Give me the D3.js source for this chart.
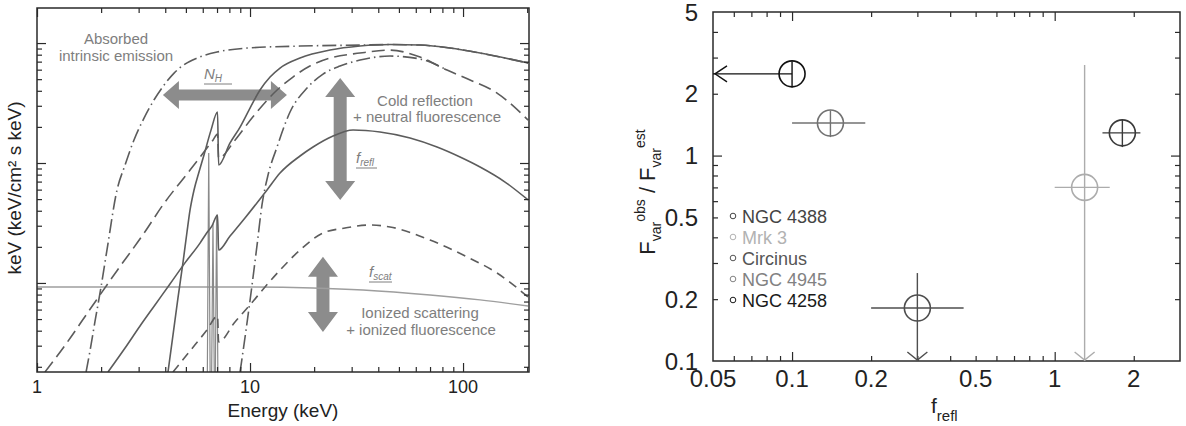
<!DOCTYPE html>
<html><head><meta charset="utf-8">
<script src="https://cdn.jsdelivr.net/npm/d3@7"></script>
<style>body{margin:0;background:#fff;}svg{display:block;font-family:"Liberation Sans",Arial,sans-serif;}</style>
</head><body><svg id="c" width="1186" height="426"></svg>
<script>
// ---------------- Left panel data (energy keV, flux arbitrary) ----------------
const energyA = [1.09,1.35,1.77,2.37,3.18,3.90,5.23,6.70,7.04,7.12,8.50,10.3,13.4,15.9,19.1,23.8,32.8,45.4,62.8,84.1,107.9,144.4,202];
const fluxA   = [0.00181,0.0030,0.0060,0.0126,0.026,0.0447,0.0874,0.155,0.174,0.110,0.155,0.242,0.406,0.521,0.643,0.750,0.825,0.874,0.764,0.596,0.492,0.383,0.228];
const energyB = [1.70,1.77,1.87,1.98,2.13,2.375,2.59,2.85,3.18,3.54,3.95,4.40,4.95,5.64,7.0,9.68,17.2,32.8,45.4,62.8,86.9,120.2,157.5,202];
const fluxB   = [0.00181,0.00266,0.00473,0.00841,0.0188,0.0596,0.0962,0.155,0.237,0.335,0.447,0.562,0.668,0.750,0.841,0.9085,0.944,0.962,0.972,0.962,0.9085,0.825,0.750,0.681];
const energyC = [4.12,4.35,4.59,4.85,5.06,5.23,5.46,5.76,6.08,6.56,7.04,7.12,8.06,8.98,10,11.14,12.42,13.83,17.17,23.75,32.84,45.4,62.8,86.9,120.2,157.5,202];
const fluxC   = [0.00181,0.00369,0.0075,0.0150,0.0266,0.0406,0.0596,0.0841,0.1166,0.188,0.266,0.0962,0.147,0.1995,0.2873,0.406,0.521,0.619,0.750,0.874,0.944,0.972,0.962,0.9085,0.825,0.750,0.681];
const energyD = [8.98,9.58,10.22,10.79,11.38,12.15,13.39,15.41,18.52,22.02,26.46,32.84,45.43,62.8,84.1];
const fluxD   = [0.00181,0.00406,0.0096,0.0207,0.0447,0.0794,0.1359,0.2661,0.4217,0.5517,0.643,0.7217,0.779,0.736,0.596];
const energyR1 = [2.154,2.59,3.045,3.58,4.21,4.95,5.825,6.215,6.63,7.04,7.12,8.06,9.47,12.02,13.83,17.17,19.76,24.53,30.45,40.76,56.39,75.49,96.81,120.2,157.5,202];
const fluxR1   = [0.00181,0.00287,0.00438,0.00656,0.0098,0.0147,0.0215,0.0256,0.0299,0.0369,0.0188,0.0246,0.0348,0.0596,0.0825,0.1144,0.1359,0.1679,0.1884,0.1813,0.1616,0.1359,0.1122,0.0926,0.0694,0.0492];
const energyR2 = [4.35,5.23,6.28,7.04,7.12,8.50,10,11.76,13.83,17.17,22.02,27.93,36.59,45.43,70,104.4,144.4,202];
const fluxR2   = [0.00181,0.00271,0.00406,0.00531,0.00322,0.00473,0.00656,0.00926,0.0128,0.0188,0.0261,0.0287,0.0304,0.0293,0.0228,0.0165,0.0121,0.00764];
const energyScat = [1,10,19.76,33.9,70,120.2,202];
const fluxScat   = [0.00926,0.00926,0.00909,0.00874,0.00794,0.00722,0.00643];
const lineEnergies = [6.4, 6.7, 6.97];
const linePeaks    = [0.121, 0.031, 0.037];
const lineHalfWidth = 0.1;
const leftXMajor = [1,10,100];
const leftXMinor = [2,3,4,5,6,7,8,9,20,30,40,50,60,70,80,90,200];
const leftYMajor = [0.01,0.1,1];
const leftYMinor = [0.002,0.003,0.004,0.005,0.006,0.007,0.008,0.009,0.02,0.03,0.04,0.05,0.06,0.07,0.08,0.09,0.2,0.3,0.4,0.5,0.6,0.7,0.8,0.9];
const leftXLabels = ["1","10","100"];

// ---------------- Right panel data ----------------
const galaxies = ["NGC 4388","Mrk 3","Circinus","NGC 4945","NGC 4258"];
const frefl   = [1.81, 1.30, 0.30, 0.14, 0.10];
const freflLo = [1.52, 1.00, 0.20, 0.10, 0.05];
const freflHi = [2.12, 1.62, 0.45, 0.19, 0.10];
const ratio   = [1.29, 0.70, 0.181, 1.44, 2.50];
const ratioLo = [1.10, 0.10, 0.10, 1.23, 2.15];
const ratioHi = [1.50, 2.76, 0.268, 1.66, 2.88];
const xUpperLimit = [false,false,false,false,true];
const yUpperLimit = [false,true,true,false,false];
const rightXTicksMajor = [0.1,1];
const rightXTicksMinor = [0.06,0.07,0.08,0.09,0.2,0.3,0.4,0.5,0.6,0.7,0.8,0.9,2];
const rightXLabels = [0.05,0.1,0.2,0.5,1,2];
const rightYTicksMajor = [1];
const rightYTicksMinor = [0.2,0.3,0.4,0.5,0.6,0.7,0.8,0.9,2,3,4];
const rightYLabels = [0.1,0.2,0.5,1,2,5];

// ---------------- styles ----------------
const ink = "#2a2a2a";
const curveCol = "#5c5c5c";
const annCol = "#7e7e7e";
const arrowCol = "#8c8c8c";
const galColors = ["#3a3a3a","#acacac","#4e4e4e","#727272","#111111"];
const legColors = ["#444444","#b2b2b2","#555555","#828282","#1a1a1a"];

const svg = d3.select("#c");
const defs = svg.append("defs");

function drawAxes(g, x, y, xMaj, xMin, yMaj, yMin) {
  const [x0, x1] = x.range(), [yb, yt] = y.range();
  const add = (fn, sc, vals, size, tr) => g.append("g").attr("transform", tr)
    .call(fn(sc).tickValues(vals).tickSize(-size).tickFormat(""))
    .call(s => s.select(".domain").remove())
    .call(s => s.selectAll("line").attr("stroke", ink).attr("stroke-width", 1.2));
  add(d3.axisBottom, x, xMin, 5, `translate(0,${yb})`);
  add(d3.axisBottom, x, xMaj, 9, `translate(0,${yb})`);
  add(d3.axisTop, x, xMin, 5, `translate(0,${yt})`);
  add(d3.axisTop, x, xMaj, 9, `translate(0,${yt})`);
  add(d3.axisLeft, y, yMin, 5, `translate(${x0},0)`);
  add(d3.axisLeft, y, yMaj, 9, `translate(${x0},0)`);
  add(d3.axisRight, y, yMin, 5, `translate(${x1},0)`);
  add(d3.axisRight, y, yMaj, 9, `translate(${x1},0)`);
  g.append("rect").attr("x", x0).attr("y", yt).attr("width", x1 - x0).attr("height", yb - yt)
    .attr("fill", "none").attr("stroke", ink).attr("stroke-width", 1.5);
}

// ================= LEFT PANEL =================
const xL = d3.scaleLog().domain([1, 204]).range([37, 529]);
const yL = d3.scaleLog().domain([1.81e-3, 1.96]).range([372, 8]);
defs.append("clipPath").attr("id", "clipL").append("rect").attr("x", 37).attr("y", 8).attr("width", 492).attr("height", 364);
const L = svg.append("g");

function dblArrow(g, xa, ya, xb, yb, sw, hw, hl) {
  const len = Math.hypot(xb - xa, yb - ya), ang = Math.atan2(yb - ya, xb - xa) * 180 / Math.PI;
  const pts = [[0,0],[hl,-hw/2],[hl,-sw/2],[len-hl,-sw/2],[len-hl,-hw/2],[len,0],[len-hl,hw/2],[len-hl,sw/2],[hl,sw/2],[hl,hw/2]];
  g.append("path").attr("d", d3.line()(pts) + "Z").attr("transform", `translate(${xa},${ya}) rotate(${ang})`).attr("fill", arrowCol);
}
// annotation arrows (behind curves)
dblArrow(L, xL(3.90), yL(0.369), xL(14.9), yL(0.369), 11, 28, 16);
dblArrow(L, xL(26.5), yL(0.511), xL(26.5), yL(0.0492), 13, 30, 19);
dblArrow(L, xL(22.0), yL(0.0165), xL(22.0), yL(0.00391), 13, 30, 20);

const plotL = L.append("g").attr("clip-path", "url(#clipL)");
const lineL = d3.line().x(d => xL(d[0])).y(d => yL(d[1])).curve(d3.curveMonotoneX);
const zip = (a, b) => a.map((v, i) => [v, b[i]]);
// scattering
plotL.append("path").attr("d", lineL(zip(energyScat, fluxScat))).attr("fill", "none").attr("stroke", "#9e9e9e").attr("stroke-width", 1.4);
// fluorescence lines
lineEnergies.forEach((e, i) => {
  const pts = [[e - lineHalfWidth, 0.0015], [e, linePeaks[i]], [e + lineHalfWidth, 0.0015]];
  plotL.append("path").attr("d", d3.line().x(d => xL(d[0])).y(d => yL(d[1]))(pts))
    .attr("fill", "none").attr("stroke", "#8a8a8a").attr("stroke-width", 1.2);
});
const curves = [
  [energyR1, fluxR1, null],
  [energyR2, fluxR2, "9,6"],
  [energyC, fluxC, null],
  [energyA, fluxA, "13,6"],
  [energyB, fluxB, "14,4,1.5,4"],
  [energyD, fluxD, "14,4,1.5,4"]
];
curves.forEach(([e, f, dash]) => {
  plotL.append("path").attr("d", lineL(zip(e, f))).attr("fill", "none")
    .attr("stroke", curveCol).attr("stroke-width", 1.6).attr("stroke-dasharray", dash);
});
drawAxes(L, xL, yL, leftXMajor, leftXMinor, leftYMajor, leftYMinor);

leftXMajor.forEach((v, i) => L.append("text").attr("x", xL(v)).attr("y", 393).attr("text-anchor", "middle")
  .attr("font-size", 18).attr("fill", "#222").text(leftXLabels[i]));
L.append("text").attr("x", 283).attr("y", 417).attr("text-anchor", "middle").attr("font-size", 19).attr("fill", "#222").text("Energy (keV)");
L.append("text").attr("transform", "translate(21,188) rotate(-90)").attr("text-anchor", "middle")
  .attr("font-size", 19).attr("fill", "#222").text("keV (keV/cm² s keV)");

// annotations
const ann = (x, y, t, size) => L.append("text").attr("x", x).attr("y", y).attr("text-anchor", "middle")
  .attr("font-size", size || 15).attr("fill", annCol).text(t);
ann(116, 44, "Absorbed");
ann(116, 61, "intrinsic emission");
ann(425, 106, "Cold reflection");
ann(427, 122, "+ neutral fluorescence");
ann(420, 318, "Ionized scattering");
ann(421, 335, "+ ionized fluorescence");
function symLabel(x, y, main, sub, w) {
  const t = L.append("text").attr("x", x).attr("y", y).attr("fill", annCol).attr("font-style", "italic");
  t.append("tspan").attr("font-size", 15).text(main);
  t.append("tspan").attr("font-size", 10).attr("dy", 3).text(sub);
  L.append("line").attr("x1", x).attr("x2", x + w).attr("y1", y + 5).attr("y2", y + 5).attr("stroke", annCol).attr("stroke-width", 1);
}
symLabel(204, 79, "N", "H", 28);
symLabel(356, 163, "f", "refl", 21);
symLabel(369, 277, "f", "scat", 23);

// ================= RIGHT PANEL =================
const xR = d3.scaleLog().domain([0.05, 3]).range([713, 1180]);
const yR = d3.scaleLog().domain([0.1, 5]).range([361, 12]);
const R = svg.append("g");
drawAxes(R, xR, yR, rightXTicksMajor, rightXTicksMinor, rightYTicksMajor, rightYTicksMinor);

const fmt = v => String(v);
rightXLabels.forEach(v => R.append("text").attr("x", xR(v)).attr("y", 387).attr("text-anchor", "middle")
  .attr("font-size", 24).attr("fill", "#222").text(fmt(v)));
rightYLabels.forEach(v => R.append("text").attr("x", 698).attr("y", yR(v) + 8.5).attr("text-anchor", "end")
  .attr("font-size", 24).attr("fill", "#222").text(fmt(v)));

const xt = R.append("text").attr("x", 931).attr("y", 413).attr("fill", "#222");
xt.append("tspan").attr("font-size", 21).text("f");
xt.append("tspan").attr("font-size", 15).attr("dy", 8).text("refl");

const yt = R.append("text").attr("transform", "translate(655,192) rotate(-90)").attr("text-anchor", "middle").attr("fill", "#222");
yt.append("tspan").attr("font-size", 22).text("F");
yt.append("tspan").attr("font-size", 14).attr("dy", 6).text("var");
yt.append("tspan").attr("font-size", 14).attr("dy", -16).text("obs");
yt.append("tspan").attr("font-size", 22).attr("dy", 10).text(" / F");
yt.append("tspan").attr("font-size", 14).attr("dy", 6).text("var");
yt.append("tspan").attr("font-size", 14).attr("dy", -16).text("est");

const ptsG = R.append("g");
galaxies.forEach((name, i) => {
  const c = galColors[i];
  const cx = xR(frefl[i]), cy = yR(ratio[i]);
  const ln = (x1, y1, x2, y2) => ptsG.append("line").attr("x1", x1).attr("y1", y1).attr("x2", x2).attr("y2", y2)
    .attr("stroke", c).attr("stroke-width", 1.4);
  ln(xR(freflLo[i]), cy, xR(freflHi[i]), cy);
  ln(cx, yR(ratioHi[i]), cx, yR(ratioLo[i]));
  if (xUpperLimit[i]) {
    const x0 = xR(freflLo[i]) + 2;
    ptsG.append("polyline").attr("points", `${x0 + 12},${cy - 8} ${x0},${cy} ${x0 + 12},${cy + 8}`)
      .attr("fill", "none").attr("stroke", c).attr("stroke-width", 1.4);
  }
  if (yUpperLimit[i]) {
    const y0 = yR(ratioLo[i]) - 1;
    ptsG.append("polyline").attr("points", `${cx - 10},${y0 - 8} ${cx},${y0} ${cx + 10},${y0 - 8}`)
      .attr("fill", "none").attr("stroke", c).attr("stroke-width", 1.4);
  }
  ptsG.append("circle").attr("cx", cx).attr("cy", cy).attr("r", 13).attr("fill", "none")
    .attr("stroke", c).attr("stroke-width", 1.6);
});

// legend
galaxies.forEach((name, i) => {
  const y = 216 + i * 21;
  R.append("circle").attr("cx", 733).attr("cy", y).attr("r", 2.8).attr("fill", "none").attr("stroke", legColors[i]).attr("stroke-width", 1);
  R.append("text").attr("x", 742).attr("y", y + 6.5).attr("font-size", 18).attr("fill", legColors[i]).text(name);
});
</script></body></html>
